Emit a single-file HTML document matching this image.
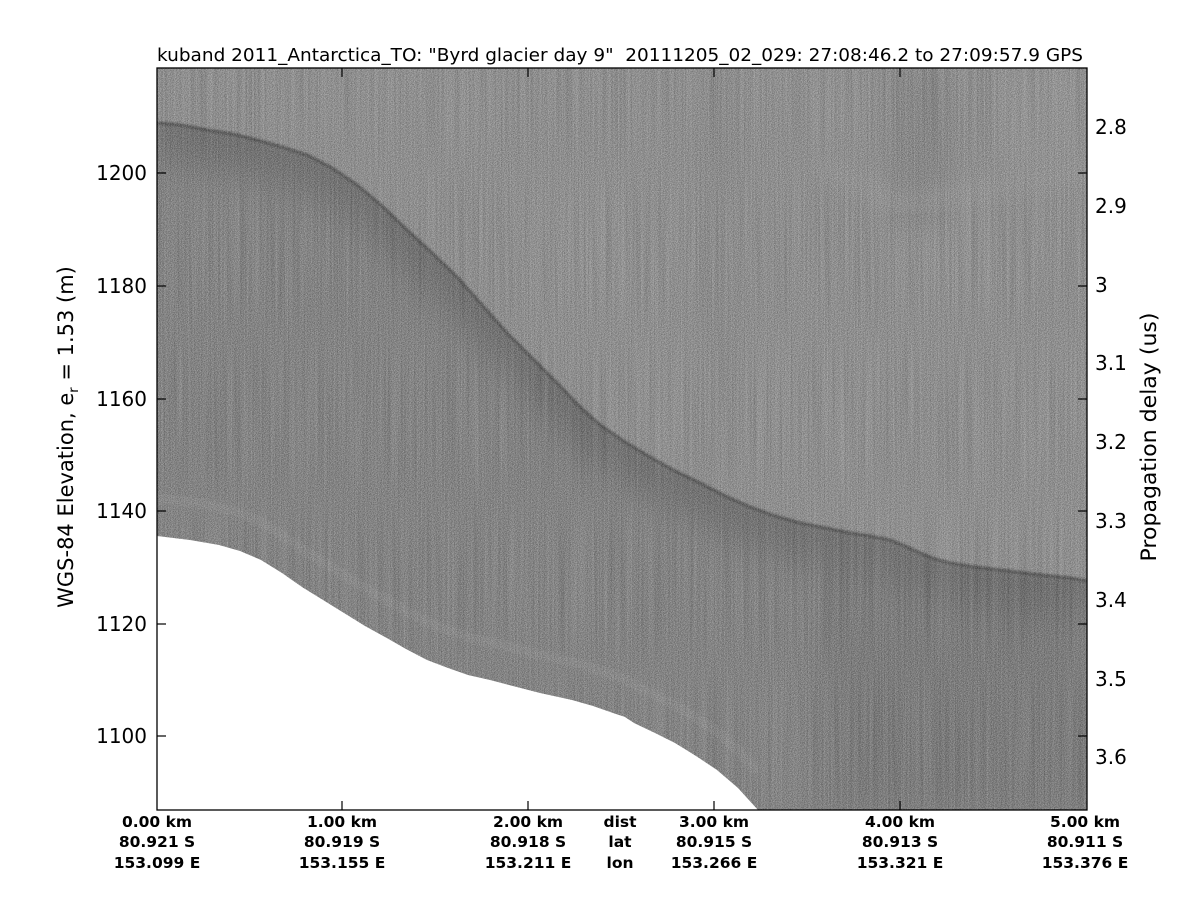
<!DOCTYPE html>
<html>
<head>
<meta charset="utf-8">
<style>
html,body{margin:0;padding:0;background:#fff;}
svg{display:block;}
text{font-family:"DejaVu Sans","Liberation Sans",sans-serif;fill:#000;}
.b{font-weight:bold;font-size:15.5px;}
</style>
</head>
<body>
<svg width="1200" height="900" viewBox="0 0 1200 900" xmlns="http://www.w3.org/2000/svg">
<defs>
  <clipPath id="plot"><rect x="157" y="68" width="930" height="742"/></clipPath>
  <clipPath id="below">
    <polygon points="157,123 180,125 207,130 232,134 257,140 282,147 307,155 332,168 357,185 382,206 407,230 432,253 457,277 482,305 507,333 532,358 557,383 580,407 600,425 625,442 650,457 675,471 700,483 725,496 750,507 775,516 800,523 825,528 850,533 870,536 890,540 905,546 920,553 935,559 950,563 975,567 1000,570 1025,573 1050,576 1070,578 1087,581 1087,810 157,810"/>
  </clipPath>
  <filter id="blur8" x="-20%" y="-20%" width="140%" height="140%" color-interpolation-filters="sRGB"><feGaussianBlur stdDeviation="9"/></filter>
  <filter id="blur14" x="-20%" y="-20%" width="140%" height="140%" color-interpolation-filters="sRGB"><feGaussianBlur stdDeviation="14"/></filter>
  <filter id="blur1" color-interpolation-filters="sRGB"><feGaussianBlur stdDeviation="1"/></filter>
  <filter id="noise1" x="0" y="0" width="100%" height="100%" color-interpolation-filters="sRGB">
    <feTurbulence type="fractalNoise" baseFrequency="1.3" numOctaves="1" seed="3"/>
    <feColorMatrix type="matrix" values="3 0 0 0 -1  3 0 0 0 -1  3 0 0 0 -1  0 0 0 0 0.2"/>
  </filter>
  <filter id="noise2" x="0" y="0" width="100%" height="100%" color-interpolation-filters="sRGB">
    <feTurbulence type="fractalNoise" baseFrequency="0.7 0.006" numOctaves="2" seed="7"/>
    <feColorMatrix type="matrix" values="1.5 0 0 0 -0.25  1.5 0 0 0 -0.25  1.5 0 0 0 -0.25  0 0 0 0 0.12"/>
  </filter>
</defs>

<!-- radar image -->
<g clip-path="url(#plot)">
  <rect x="157" y="68" width="930" height="742" fill="#959595"/>
  <!-- subtle upper features -->
  <rect x="890" y="68" width="60" height="160" fill="#838383" opacity="0.5" filter="url(#blur8)"/>
  <rect x="1000" y="68" width="87" height="100" fill="#a0a0a0" opacity="0.5" filter="url(#blur8)"/>
  <path d="M820,165 L900,205 L1087,172" stroke="#a5a5a5" stroke-width="14" fill="none" opacity="0.5" filter="url(#blur8)"/>
  <rect x="700" y="68" width="40" height="400" fill="#8a8a8a" opacity="0.4" filter="url(#blur8)"/>

  <!-- below surface -->
  <g clip-path="url(#below)">
    <rect x="157" y="100" width="930" height="710" fill="#858585"/>
    <rect x="820" y="560" width="267" height="250" fill="#757575" opacity="0.6" filter="url(#blur14)"/>
    <polyline transform="translate(0,22)" points="157,123 180,125 207,130 232,134 257,140 282,147 307,155 332,168 357,185 382,206 407,230 432,253 457,277 482,305 507,333 532,358 557,383 580,407 600,425 625,442 650,457 675,471 700,483 725,496 750,507 775,516 800,523 825,528 850,533 870,536 890,540 905,546 920,553 935,559 950,563 975,567 1000,570 1025,573 1050,576 1070,578 1087,581" stroke="#626262" stroke-width="40" fill="none" opacity="0.5" filter="url(#blur14)"/>
    <polyline transform="translate(0,5)" points="157,123 180,125 207,130 232,134 257,140 282,147 307,155 332,168 357,185 382,206 407,230 432,253 457,277 482,305 507,333 532,358 557,383 580,407 600,425 625,442 650,457 675,471 700,483 725,496 750,507 775,516 800,523 825,528 850,533 870,536 890,540 905,546 920,553 935,559 950,563 975,567 1000,570 1025,573 1050,576 1070,578 1087,581" stroke="#535353" stroke-width="10" fill="none" opacity="0.6" filter="url(#blur8)"/>
    <!-- light band parallel to bed -->
    <polyline transform="translate(0,-38)" points="157,536 190,540 219,545 240,551 261,560 282,573 302,587 323,600 344,613 365,626 385,637 406,649 427,660 448,668 468,675 490,680 509,685 540,693 572,700 593,706 613,713 625,717 634,723 655,733 675,743 696,756 717,770 738,788 758,810" stroke="#979797" stroke-width="10" fill="none" opacity="0.45" filter="url(#blur1)"/>
  </g>
  <polyline points="157,123 180,125 207,130 232,134 257,140 282,147 307,155 332,168 357,185 382,206 407,230 432,253 457,277 482,305 507,333 532,358 557,383 580,407 600,425 625,442 650,457 675,471 700,483 725,496 750,507 775,516 800,523 825,528 850,533 870,536 890,540 905,546 920,553 935,559 950,563 975,567 1000,570 1025,573 1050,576 1070,578 1087,581" stroke="#484848" stroke-width="3" fill="none" filter="url(#blur1)"/>

  <!-- noise -->
  <rect x="157" y="68" width="930" height="742" filter="url(#noise2)"/>
  <rect x="157" y="68" width="930" height="742" filter="url(#noise1)"/>

  <!-- white bed region -->
  <polygon points="157,536 190,540 219,545 240,551 261,560 282,573 302,587 323,600 344,613 365,626 385,637 406,649 427,660 448,668 468,675 490,680 509,685 540,693 572,700 593,706 613,713 625,717 634,723 655,733 675,743 696,756 717,770 738,788 758,810 157,810" fill="#fff"/>
</g>

<!-- axes box -->
<rect x="157" y="68" width="930" height="742" fill="none" stroke="#000" stroke-width="1.3"/>

<!-- ticks -->
<g stroke="#000" stroke-width="1.2">
  <line x1="157" y1="173" x2="166" y2="173"/>
  <line x1="157" y1="286" x2="166" y2="286"/>
  <line x1="157" y1="399" x2="166" y2="399"/>
  <line x1="157" y1="511" x2="166" y2="511"/>
  <line x1="157" y1="624" x2="166" y2="624"/>
  <line x1="157" y1="736" x2="166" y2="736"/>
  <line x1="1078" y1="173" x2="1087" y2="173"/>
  <line x1="1078" y1="286" x2="1087" y2="286"/>
  <line x1="1078" y1="399" x2="1087" y2="399"/>
  <line x1="1078" y1="511" x2="1087" y2="511"/>
  <line x1="1078" y1="624" x2="1087" y2="624"/>
  <line x1="1078" y1="736" x2="1087" y2="736"/>
  <line x1="342" y1="810" x2="342" y2="801"/>
  <line x1="528" y1="810" x2="528" y2="801"/>
  <line x1="714" y1="810" x2="714" y2="801"/>
  <line x1="900" y1="810" x2="900" y2="801"/>
  <line x1="342" y1="68" x2="342" y2="77"/>
  <line x1="528" y1="68" x2="528" y2="77"/>
  <line x1="714" y1="68" x2="714" y2="77"/>
  <line x1="900" y1="68" x2="900" y2="77"/>
</g>

<!-- title -->
<text x="157" y="61" font-size="18" textLength="926" lengthAdjust="spacingAndGlyphs">kuband 2011_Antarctica_TO: "Byrd glacier day 9"&#160;&#160;20111205_02_029: 27:08:46.2 to 27:09:57.9 GPS</text>

<!-- left tick labels -->
<g font-size="20" text-anchor="end">
  <text x="147" y="180">1200</text>
  <text x="147" y="293">1180</text>
  <text x="147" y="406">1160</text>
  <text x="147" y="518">1140</text>
  <text x="147" y="631">1120</text>
  <text x="147" y="743">1100</text>
</g>

<!-- right tick labels -->
<g font-size="20">
  <text x="1095" y="134">2.8</text>
  <text x="1095" y="213">2.9</text>
  <text x="1095" y="292">3</text>
  <text x="1095" y="370">3.1</text>
  <text x="1095" y="449">3.2</text>
  <text x="1095" y="528">3.3</text>
  <text x="1095" y="607">3.4</text>
  <text x="1095" y="686">3.5</text>
  <text x="1095" y="764">3.6</text>
</g>

<!-- axis labels -->
<text transform="translate(73,437) rotate(-90)" text-anchor="middle" font-size="21">WGS-84 Elevation, e<tspan dy="5" font-size="13">r</tspan><tspan dy="-5"> = 1.53 (m)</tspan></text>
<text transform="translate(1156,437) rotate(-90)" text-anchor="middle" font-size="21" textLength="249" lengthAdjust="spacingAndGlyphs">Propagation delay (us)</text>

<!-- x labels -->
<g class="b" text-anchor="middle">
  <text x="157" y="827">0.00 km</text>
  <text x="157" y="847">80.921 S</text>
  <text x="157" y="868">153.099 E</text>
  <text x="342" y="827">1.00 km</text>
  <text x="342" y="847">80.919 S</text>
  <text x="342" y="868">153.155 E</text>
  <text x="528" y="827">2.00 km</text>
  <text x="528" y="847">80.918 S</text>
  <text x="528" y="868">153.211 E</text>
  <text x="620" y="827">dist</text>
  <text x="620" y="847">lat</text>
  <text x="620" y="868">lon</text>
  <text x="714" y="827">3.00 km</text>
  <text x="714" y="847">80.915 S</text>
  <text x="714" y="868">153.266 E</text>
  <text x="900" y="827">4.00 km</text>
  <text x="900" y="847">80.913 S</text>
  <text x="900" y="868">153.321 E</text>
  <text x="1085" y="827">5.00 km</text>
  <text x="1085" y="847">80.911 S</text>
  <text x="1085" y="868">153.376 E</text>
</g>
</svg>
</body>
</html>
